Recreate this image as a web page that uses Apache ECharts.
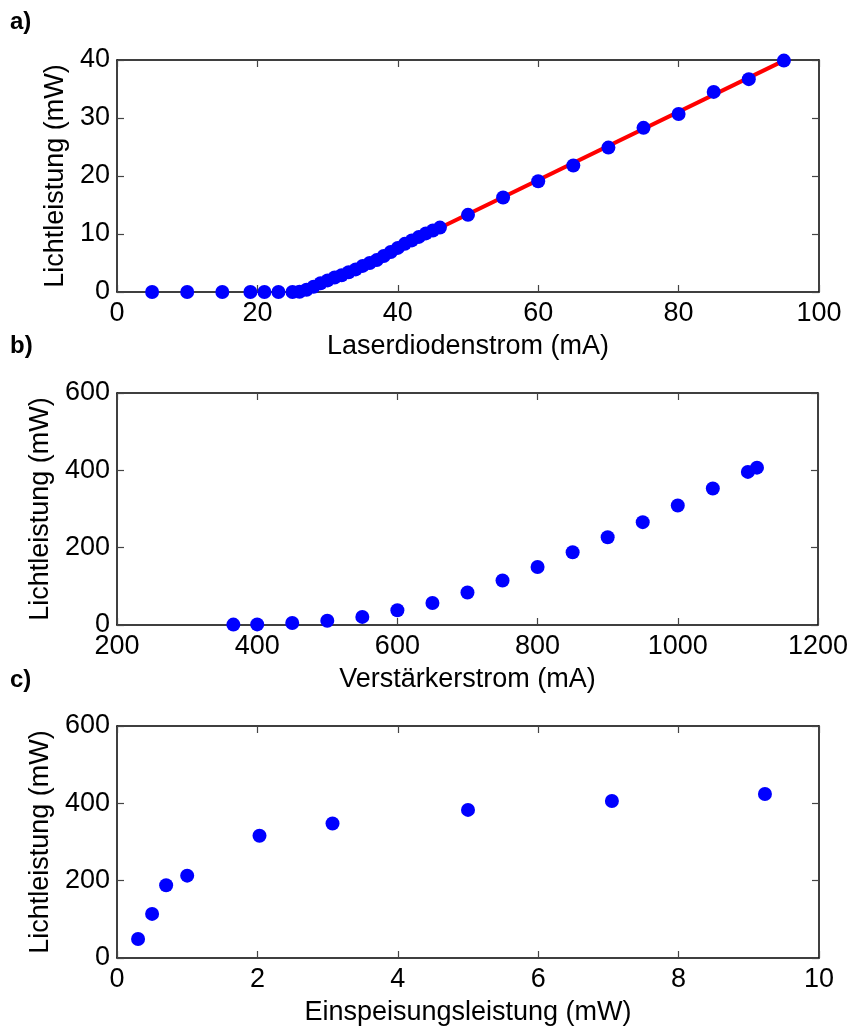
<!DOCTYPE html>
<html>
<head>
<meta charset="utf-8">
<script src="https://cdn.jsdelivr.net/npm/echarts@6/dist/echarts.min.js"></script>
<style>
  html, body { margin: 0; padding: 0; background: #fff; }
  #chart { width: 851px; height: 1027px; }
</style>
</head>
<body>
<div id="chart"></div>
<script>
// a) Laser diode: light output vs. diode current
const diodeCurrent = [5, 10, 15, 19, 21, 23, 25, 26, 27, 28, 29, 30, 31, 32, 33, 34, 35, 36, 37, 38, 39, 40, 41, 42, 43, 44, 45, 46, 50, 55, 60, 65, 70, 75, 80, 85, 90, 95];
const diodePower = [0, 0, 0, 0, 0, 0, 0, 0.05, 0.4, 0.9, 1.5, 2.0, 2.5, 2.9, 3.4, 3.9, 4.5, 5.0, 5.5, 6.2, 6.9, 7.6, 8.3, 8.9, 9.5, 10.1, 10.6, 11.1, 13.3, 16.3, 19.1, 21.8, 24.9, 28.3, 30.7, 34.5, 36.7, 39.9];
// linear fit above threshold
const fitCurrent = [27.2, 95];
const fitPower = [0, 39.9];

// b) Amplifier: light output vs. amplifier current
const ampCurrent = [366, 400, 450, 500, 550, 600, 650, 700, 750, 800, 850, 900, 950, 1000, 1050, 1100, 1113];
const ampPower = [1, 1.5, 5, 11, 21, 38, 57, 84, 115, 150, 188, 227, 266, 309, 353, 396, 407];

// c) Amplifier: light output vs. seed power
const seedPower = [0.3, 0.5, 0.7, 1.0, 2.03, 3.07, 5.0, 7.05, 9.23];
const seedOutPower = [49, 114, 188, 213, 316, 348, 383, 406, 424];

const FONT = '"Liberation Sans", Arial, Helvetica, sans-serif';
const FS = 27;

const grids = [
  { left: 117, top: 60, width: 702, height: 232 },
  { left: 117, top: 393, width: 702, height: 232 },
  { left: 117, top: 726, width: 702, height: 232 }
];

const xSpecs = [
  { min: 0, max: 100, interval: 20, name: 'Laserdiodenstrom (mA)' },
  { min: 200, max: 1200, interval: 200, name: 'Verstärkerstrom (mA)' },
  { min: 0, max: 10, interval: 2, name: 'Einspeisungsleistung (mW)' }
];
const ySpecs = [
  { min: 0, max: 40, interval: 10 },
  { min: 0, max: 600, interval: 200 },
  { min: 0, max: 600, interval: 200 }
];

const lineStyle = { color: '#000', width: 1.5 };
const tickStyle = { show: true, inside: true, length: 7, lineStyle: { color: '#444', width: 1.2 } };
const plain = v => String(v);

const xAxis = [];
const yAxis = [];
xSpecs.forEach((s, i) => {
  xAxis.push({
    type: 'value', gridIndex: i, min: s.min, max: s.max, interval: s.interval,
    position: 'bottom',
    name: s.name, nameLocation: 'middle', nameGap: 41,
    nameTextStyle: { fontFamily: FONT, fontSize: FS, color: '#000' },
    axisLine: { show: true, onZero: false, lineStyle },
    axisTick: tickStyle,
    axisLabel: { fontFamily: FONT, fontSize: FS, color: '#000', margin: 8, formatter: plain },
    splitLine: { show: false }
  });
  xAxis.push({
    type: 'value', gridIndex: i, min: s.min, max: s.max, interval: s.interval,
    position: 'top',
    axisLine: { show: true, onZero: false, lineStyle },
    axisTick: tickStyle,
    axisLabel: { show: false },
    splitLine: { show: false }
  });
});
ySpecs.forEach((s, i) => {
  yAxis.push({
    type: 'value', gridIndex: i, min: s.min, max: s.max, interval: s.interval,
    position: 'left',
    name: 'Lichtleistung (mW)', nameLocation: 'middle', nameGap: 48,
    nameTextStyle: { fontFamily: FONT, fontSize: FS, color: '#000' },
    axisLine: { show: true, onZero: false, lineStyle },
    axisTick: tickStyle,
    axisLabel: { fontFamily: FONT, fontSize: FS, color: '#000', margin: 7, formatter: plain },
    splitLine: { show: false }
  });
  yAxis.push({
    type: 'value', gridIndex: i, min: s.min, max: s.max, interval: s.interval,
    position: 'right',
    axisLine: { show: true, onZero: false, lineStyle },
    axisTick: tickStyle,
    axisLabel: { show: false },
    splitLine: { show: false }
  });
});

const pair = (xs, ys) => xs.map((x, k) => [x, ys[k]]);
const dot = { color: '#0000ff', opacity: 1 };

const option = {
  animation: false,
  backgroundColor: '#fff',
  grid: grids,
  xAxis, yAxis,
  graphic: [
    { type: 'text', left: 10, top: 10, style: { text: 'a)', font: 'bold 24px ' + FONT, fill: '#000' } },
    { type: 'text', left: 10, top: 334, style: { text: 'b)', font: 'bold 24px ' + FONT, fill: '#000' } },
    { type: 'text', left: 10, top: 668, style: { text: 'c)', font: 'bold 24px ' + FONT, fill: '#000' } }
  ],
  series: [
    {
      type: 'line', xAxisIndex: 0, yAxisIndex: 0, data: pair(fitCurrent, fitPower),
      showSymbol: false, lineStyle: { color: '#ff0000', width: 4 }, z: 2
    },
    {
      type: 'scatter', xAxisIndex: 0, yAxisIndex: 0, data: pair(diodeCurrent, diodePower),
      symbolSize: 14, itemStyle: dot, z: 3
    },
    {
      type: 'scatter', xAxisIndex: 2, yAxisIndex: 2, data: pair(ampCurrent, ampPower),
      symbolSize: 14, itemStyle: dot
    },
    {
      type: 'scatter', xAxisIndex: 4, yAxisIndex: 4, data: pair(seedPower, seedOutPower),
      symbolSize: 14, itemStyle: dot
    }
  ]
};

echarts.init(document.getElementById('chart'), null, { renderer: 'canvas' }).setOption(option);
</script>
</body>
</html>
